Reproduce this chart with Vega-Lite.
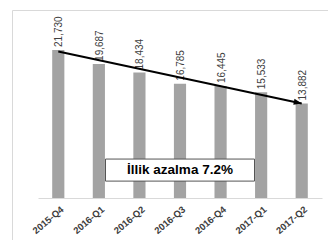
{
  "$schema": "https://vega.github.io/schema/vega-lite/v6.json",
  "autosize": "none",
  "padding": {"left": 12, "top": 10, "right": 0, "bottom": 0},
  "width": 330,
  "height": 240,
  "background": "white",
  "config": {
    "view": {"stroke": "#d9d9d9", "strokeWidth": 1},
    "font": "Liberation Sans"
  },
  "data": {
    "values": [
      {"quarter": "2015-Q4", "value": 21730},
      {"quarter": "2016-Q1", "value": 19687},
      {"quarter": "2016-Q2", "value": 18434},
      {"quarter": "2016-Q3", "value": 16785},
      {"quarter": "2016-Q4", "value": 16445},
      {"quarter": "2017-Q1", "value": 15533},
      {"quarter": "2017-Q2", "value": 13882}
    ]
  },
  "layer": [
    {
      "mark": {"type": "bar", "color": "#a3a3a3"},
      "encoding": {
        "x": {
          "field": "quarter", "type": "ordinal", "sort": null,
          "scale": {"range": [26, 310], "paddingInner": 0.7, "paddingOuter": 0.35},
          "axis": {
            "title": null, "offset": -52, "domainColor": "#d9d9d9", "ticks": false,
            "labelAngle": -40, "labelAlign": "right", "labelBaseline": "top",
            "labelFontWeight": "bold", "labelFontSize": 9.5, "labelColor": "#404040",
            "labelPadding": 6, "labelOffset": 1, "grid": false
          }
        },
        "y": {
          "field": "value", "type": "quantitative",
          "scale": {"domain": [0, 21730], "range": [188, 40], "nice": false},
          "axis": null
        }
      }
    },
    {
      "mark": {"type": "text", "angle": -90, "align": "left", "baseline": "middle", "dx": 3, "dy": 1, "fontSize": 10, "color": "#404040"},
      "encoding": {
        "x": {"field": "quarter", "type": "ordinal", "sort": null},
        "y": {"field": "value", "type": "quantitative"},
        "text": {"field": "value", "type": "quantitative", "format": ","}
      }
    },
    {
      "data": {"values": [
        {"quarter": "2015-Q4", "value": 21500},
        {"quarter": "2017-Q2", "value": 13882}
      ]},
      "mark": {"type": "line", "color": "black", "strokeWidth": 2},
      "encoding": {
        "x": {"field": "quarter", "type": "ordinal", "sort": null},
        "y": {"field": "value", "type": "quantitative"}
      }
    },
    {
      "data": {"values": [
        {"quarter": "2017-Q2", "value": 13882, "angle": 12}
      ]},
      "mark": {"type": "point", "shape": "M0,0L-1.6,-0.6L-1.6,0.6Z", "filled": true, "color": "black", "opacity": 1, "size": 100},
      "encoding": {
        "x": {"field": "quarter", "type": "ordinal", "sort": null},
        "y": {"field": "value", "type": "quantitative"},
        "angle": {"field": "angle", "type": "quantitative", "scale": null}
      }
    },
    {
      "data": {"values": [
        {"quarter": "2016-Q3", "value": 4100, "label": "İllik azalma 7.2%"}
      ]},
      "layer": [
        {
          "mark": {"type": "point", "shape": "M-1,-0.148H1V0.148H-1Z", "filled": true, "fill": "white", "stroke": "#555555", "strokeWidth": 1, "opacity": 1, "size": 22201},
          "encoding": {
            "x": {"field": "quarter", "type": "ordinal", "sort": null},
            "y": {"field": "value", "type": "quantitative"}
          }
        },
        {
          "mark": {"type": "text", "fontSize": 13.5, "fontWeight": "bold", "color": "black", "align": "center", "baseline": "middle"},
          "encoding": {
            "x": {"field": "quarter", "type": "ordinal", "sort": null},
            "y": {"field": "value", "type": "quantitative"},
            "text": {"field": "label"}
          }
        }
      ]
    }
  ]
}
